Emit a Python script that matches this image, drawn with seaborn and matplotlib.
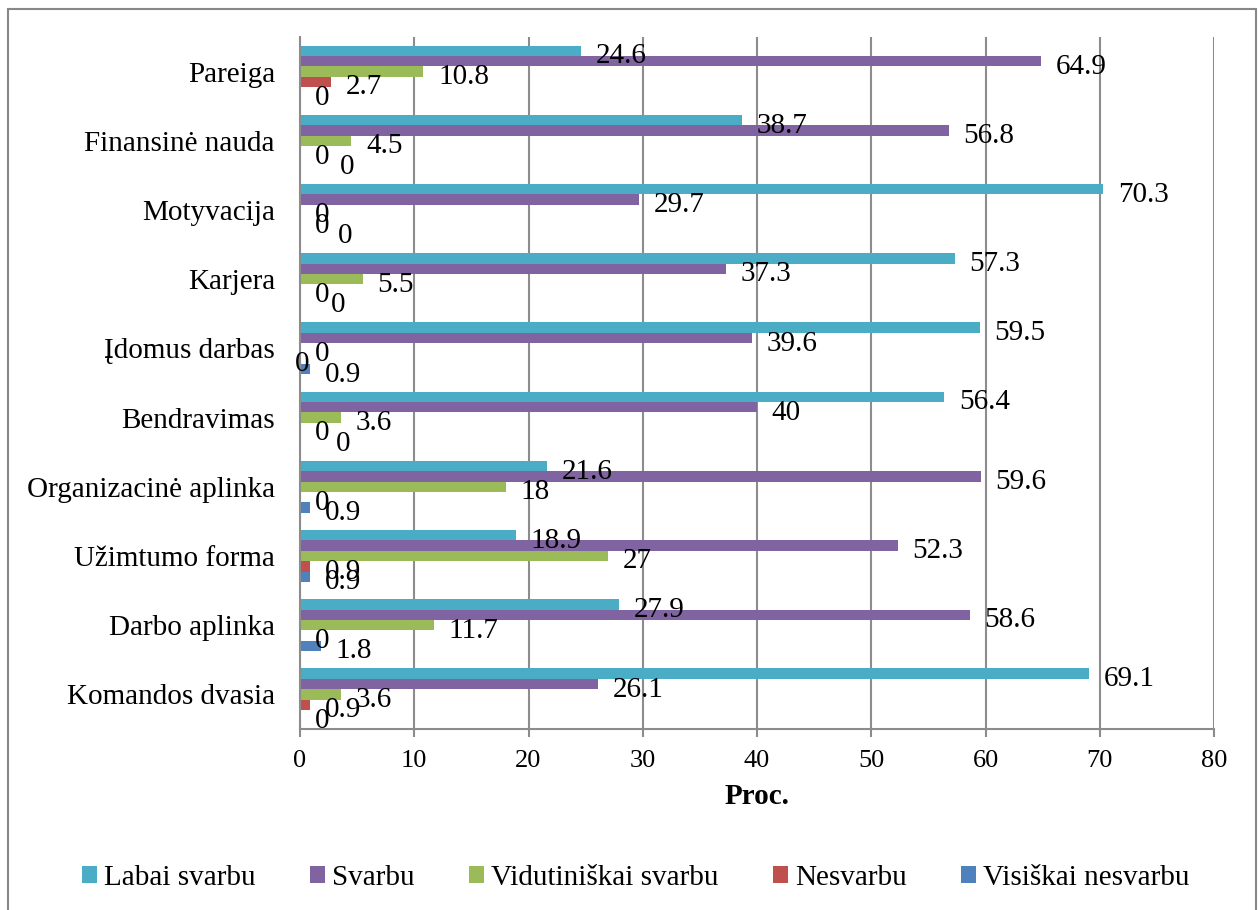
import matplotlib
matplotlib.use("Agg")
import matplotlib.pyplot as plt
from matplotlib.patches import Patch, Rectangle
import seaborn as sns
import pandas as pd

categories = ["Pareiga", "Finansinė nauda", "Motyvacija", "Karjera", "Įdomus darbas",
              "Bendravimas", "Organizacinė aplinka", "Užimtumo forma", "Darbo aplinka",
              "Komandos dvasia"]
series = ["Labai svarbu", "Svarbu", "Vidutiniškai svarbu", "Nesvarbu", "Visiškai nesvarbu"]
labai_svarbu = [24.6, 38.7, 70.3, 57.3, 59.5, 56.4, 21.6, 18.9, 27.9, 69.1]
svarbu = [64.9, 56.8, 29.7, 37.3, 39.6, 40, 59.6, 52.3, 58.6, 26.1]
vidutiniskai = [10.8, 4.5, 0, 5.5, 0, 3.6, 18, 27, 11.7, 3.6]
nesvarbu = [2.7, 0, 0, 0, 0, 0, 0, 0.9, 0, 0.9]
visiskai_nesvarbu = [0, 0, 0, 0, 0.9, 0, 0.9, 0.9, 1.8, 0]
x_ticks = [0, 10, 20, 30, 40, 50, 60, 70, 80]

colors = ["#4BACC6", "#8064A2", "#9BBB59", "#C0504D", "#4F81BD"]
values_by_series = [labai_svarbu, svarbu, vidutiniskai, nesvarbu, visiskai_nesvarbu]

# extra horizontal shift (points) for crowded zero labels
label_nudge = {
    ("Finansinė nauda", "Visiškai nesvarbu"): 18,
    ("Motyvacija", "Visiškai nesvarbu"): 17,
    ("Karjera", "Visiškai nesvarbu"): 12,
    ("Įdomus darbas", "Nesvarbu"): -14,
    ("Bendravimas", "Visiškai nesvarbu"): 15,
}

rows = []
for s, vals in zip(series, values_by_series):
    for c, v in zip(categories, vals):
        rows.append({"Kategorija": c, "Reikšmė": v, "Vertinimas": s})
df = pd.DataFrame(rows)

sns.set_theme(style="white")
plt.rcParams["font.family"] = ["Liberation Serif", "DejaVu Serif"]
plt.rcParams["text.color"] = "black"

fig = plt.figure(figsize=(12.59, 9.10), dpi=100)
ax = fig.add_axes([300 / 1259, 1 - 729 / 910, 914 / 1259, 692 / 910])

sns.barplot(data=df, y="Kategorija", x="Reikšmė", hue="Vertinimas", orient="h",
            order=categories, hue_order=series, palette=colors, saturation=1,
            width=0.75, errorbar=None, linewidth=0, legend=False, ax=ax, zorder=3)

ax.set_xlim(0, 80)
ax.set_xticks(x_ticks)
ax.set_xticklabels([str(t) for t in x_ticks])
ax.set_ylim(len(categories) - 0.5, -0.5)

grid_c = "#8C8C8C"
ax.grid(axis="x", color=grid_c, linewidth=1.5, zorder=0)
ax.grid(axis="y", visible=False)
for side in ["top", "right"]:
    ax.spines[side].set_visible(False)
for side in ["left", "bottom"]:
    ax.spines[side].set_color(grid_c)
    ax.spines[side].set_linewidth(1.5)
    ax.spines[side].set_zorder(4)

ax.tick_params(axis="x", length=6, width=1.5, color=grid_c, direction="out",
               bottom=True, labelsize=19, pad=9, labelcolor="black")
ax.tick_params(axis="y", length=0, labelsize=21, pad=18, labelcolor="black")
ax.set_ylabel("")
ax.set_xlabel("Proc.", fontsize=21, fontweight="bold", labelpad=8, color="black")

# value labels at the end of each bar
for s, container, vals in zip(series, ax.containers, values_by_series):
    for c, rect, v in zip(categories, container.patches, vals):
        yc = rect.get_y() + rect.get_height() / 2
        dx = 10.5 + label_nudge.get((c, s), 0)
        ax.annotate(f"{v:g}", xy=(v, yc), xytext=(dx, -9), textcoords="offset points",
                    ha="left", va="baseline", fontsize=21, color="black", zorder=5,
                    annotation_clip=False)

handles = [Patch(facecolor=c, edgecolor="none", label=s) for c, s in zip(colors, series)]
fig.legend(handles=handles, loc="center", bbox_to_anchor=(0.505, 1 - 878 / 910), ncol=5,
           frameon=False, fontsize=21, handlelength=0.52, handleheight=0.52,
           handletextpad=0.25, columnspacing=1.85)

# outer chart border
fig.patches.append(Rectangle((8 / 1259, -0.02), 1248 / 1259, 1.02 - 9 / 910,
                             transform=fig.transFigure, fill=False,
                             edgecolor="#878787", linewidth=1.5))

fig.savefig("out.png", dpi=100)
